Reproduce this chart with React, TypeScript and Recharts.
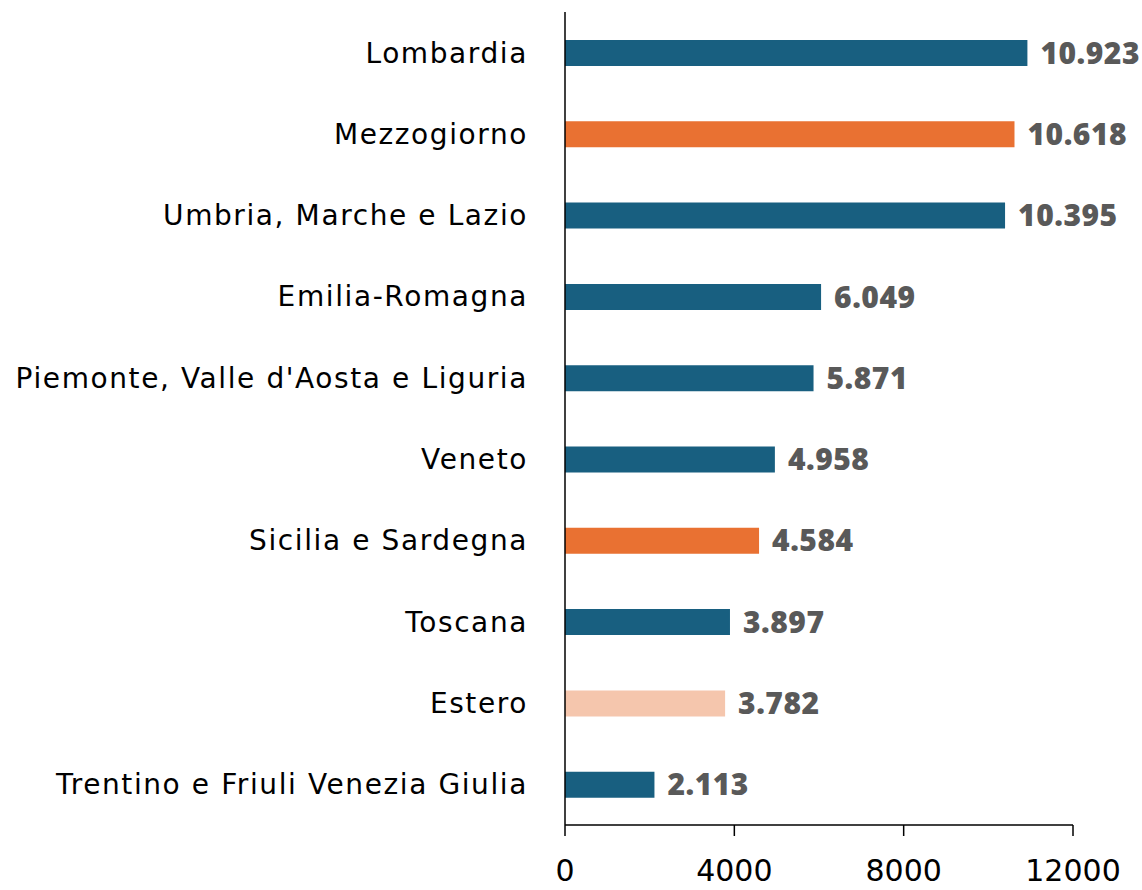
import React from "react";
import { BarChart, Bar, XAxis, YAxis, Cell, LabelList } from "recharts";

const categories = [
  "Lombardia",
  "Mezzogiorno",
  "Umbria, Marche e Lazio",
  "Emilia-Romagna",
  "Piemonte, Valle d'Aosta e Liguria",
  "Veneto",
  "Sicilia e Sardegna",
  "Toscana",
  "Estero",
  "Trentino e Friuli Venezia Giulia",
];
const values = [10923, 10618, 10395, 6049, 5871, 4958, 4584, 3897, 3782, 2113];
const colors = [
  "#185F80", "#E97132", "#185F80", "#185F80", "#185F80",
  "#185F80", "#E97132", "#185F80", "#F5C6AD", "#185F80",
];
const xTicks = [0, 4000, 8000, 12000];

const data = categories.map((name, i) => ({ name, value: values[i], color: colors[i] }));

const fmt = (v: number) =>
  String(v).replace(/\B(?=(\d{3})+(?!\d))/g, ".");

export default function App() {
  return (
    <div style={{ position: "absolute", left: 0, top: 0, background: "#fff" }}>
      <BarChart
        width={1142}
        height={890}
        data={data}
        layout="vertical"
        margin={{ top: 12, right: 69, bottom: 0, left: 0 }}
        barCategoryGap={0}
      >
        <XAxis
          type="number"
          domain={[0, 12000]}
          ticks={xTicks}
          height={65}
          axisLine={{ stroke: "#000", strokeWidth: 1.5 }}
          tickLine={{ stroke: "#000", strokeWidth: 1.5 }}
          tickSize={11}
          tickMargin={24}
          tick={{ fill: "#000", fontSize: 30, fontFamily: "DejaVu Sans" }}
        />
        <YAxis
          type="category"
          dataKey="name"
          width={565}
          axisLine={{ stroke: "#000", strokeWidth: 1.5 }}
          tickLine={false}
          tickSize={0}
          tickMargin={37}
          interval={0}
          tick={{ fill: "#000", fontSize: 28, fontFamily: "DejaVu Sans", letterSpacing: 1.6 }}
        />
        <Bar dataKey="value" barSize={26} isAnimationActive={false}>
          {data.map((d, i) => (
            <Cell key={i} fill={d.color} />
          ))}
          <LabelList
            dataKey="value"
            position="right"
            offset={13}
            formatter={(v: number) => fmt(v)}
            style={{ fill: "#595959", fontSize: 30, fontWeight: 800, fontFamily: "Open Sans", letterSpacing: 0.5 }}
          />
        </Bar>
      </BarChart>
    </div>
  );
}
